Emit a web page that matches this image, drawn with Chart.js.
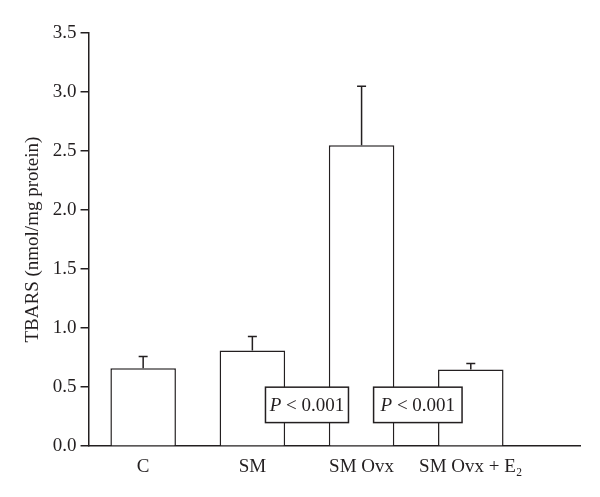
<!DOCTYPE html>
<html>
<head>
<meta charset="utf-8">
<script src="https://cdn.jsdelivr.net/npm/chart.js@4/dist/chart.umd.min.js"></script>
<style>
  html, body { margin: 0; padding: 0; background: #fff; }
  #wrap { width: 600px; height: 497px; }
</style>
</head>
<body>
<div id="wrap"><canvas id="tbarsChart" width="600" height="497"></canvas></div>
<script>
/* TBARS bar chart with SEM error bars and P-value boxes */
var groups = ['C', 'SM', 'SM Ovx', 'SM Ovx + E\u2082'];
var groupPos = [1, 2, 3, 4];
var tbars = [0.66, 0.81, 2.55, 0.65];
var sem = [0.10, 0.12, 0.50, 0.05];
var pText = ['< 0.001', '< 0.001'];
var pFrom = [2.12, 3.11];
var pTo = [2.88, 3.92];
var pTop = [0.50, 0.50];
var pBottom = [0.20, 0.20];

var ink = '#231f20';
var serif = '"Liberation Serif", "DejaVu Serif", serif';
var fs = 19;

// upward-only error bars with a short cap
var errorBars = {
    id: 'errorBars',
    afterDatasetsDraw: function (chart) {
        var ctx = chart.ctx;
        var y = chart.scales.y;
        var meta = chart.getDatasetMeta(0);
        ctx.save();
        ctx.strokeStyle = ink;
        ctx.lineWidth = 1.5;
        meta.data.forEach(function (bar, i) {
            var yTop = y.getPixelForValue(tbars[i] + sem[i]);
            ctx.beginPath();
            ctx.moveTo(bar.x, bar.y);
            ctx.lineTo(bar.x, yTop);
            ctx.moveTo(bar.x - 4.5, yTop);
            ctx.lineTo(bar.x + 4.5, yTop);
            ctx.stroke();
        });
        ctx.restore();
    }
};

// boxed "P < 0.001" labels sitting over the bars
var pBoxes = {
    id: 'pBoxes',
    afterDraw: function (chart) {
        var ctx = chart.ctx;
        var x = chart.scales.x, y = chart.scales.y;
        ctx.save();
        pText.forEach(function (t, i) {
            var x0 = x.getPixelForValue(pFrom[i]);
            var x1 = x.getPixelForValue(pTo[i]);
            var y0 = y.getPixelForValue(pTop[i]);
            var y1 = y.getPixelForValue(pBottom[i]);
            ctx.fillStyle = '#fff';
            ctx.fillRect(x0, y0, x1 - x0, y1 - y0);
            ctx.strokeStyle = ink;
            ctx.lineWidth = 1.5;
            ctx.strokeRect(x0, y0, x1 - x0, y1 - y0);

            ctx.fillStyle = ink;
            ctx.textBaseline = 'middle';
            ctx.font = 'italic ' + fs + 'px ' + serif;
            var wP = ctx.measureText('P ').width;
            ctx.font = fs + 'px ' + serif;
            var wT = ctx.measureText(t).width;
            var sx = (x0 + x1) / 2 - (wP + wT) / 2;
            var cy = (y0 + y1) / 2 + 1;
            ctx.font = 'italic ' + fs + 'px ' + serif;
            ctx.textAlign = 'left';
            ctx.fillText('P ', sx, cy);
            ctx.font = fs + 'px ' + serif;
            ctx.fillText(t, sx + wP, cy);
        });
        ctx.restore();
    }
};

new Chart(document.getElementById('tbarsChart'), {
    type: 'bar',
    data: {
        datasets: [{
            data: groupPos.map(function (p, i) { return { x: p, y: tbars[i] }; }),
            backgroundColor: '#fff',
            borderColor: ink,
            borderWidth: 1.5,
            barPercentage: 0.6,
            categoryPercentage: 1.0
        }]
    },
    options: {
        responsive: false,
        animation: false,
        layout: { padding: { left: 22, right: 20, top: 33, bottom: 18 } },
        plugins: { legend: { display: false }, tooltip: { enabled: false } },
        scales: {
            x: {
                type: 'linear',
                offset: false,
                min: 0.5,
                max: 5.0,
                grid: { display: false },
                border: { color: ink, width: 1.5 },
                afterBuildTicks: function (axis) {
                    axis.ticks = groupPos.map(function (v) { return { value: v }; });
                },
                ticks: {
                    color: ink,
                    font: { family: serif, size: fs },
                    padding: 1,
                    maxRotation: 0,
                    autoSkip: false,
                    callback: function (v) {
                        var i = groupPos.indexOf(v);
                        return i < 0 ? '' : groups[i];
                    }
                }
            },
            y: {
                min: 0,
                max: 3.5,
                grid: { drawOnChartArea: false, tickLength: 8, color: ink, lineWidth: 1.5 },
                border: { color: ink, width: 1.5 },
                ticks: {
                    stepSize: 0.5,
                    color: ink,
                    padding: 4,
                    font: { family: serif, size: fs },
                    callback: function (v) { return v.toFixed(1); }
                },
                title: {
                    display: true,
                    text: 'TBARS (nmol/mg protein)',
                    color: ink,
                    font: { family: serif, size: fs },
                    padding: { top: 0, bottom: 4 }
                }
            }
        }
    },
    plugins: [errorBars, pBoxes]
});
</script>
</body>
</html>
